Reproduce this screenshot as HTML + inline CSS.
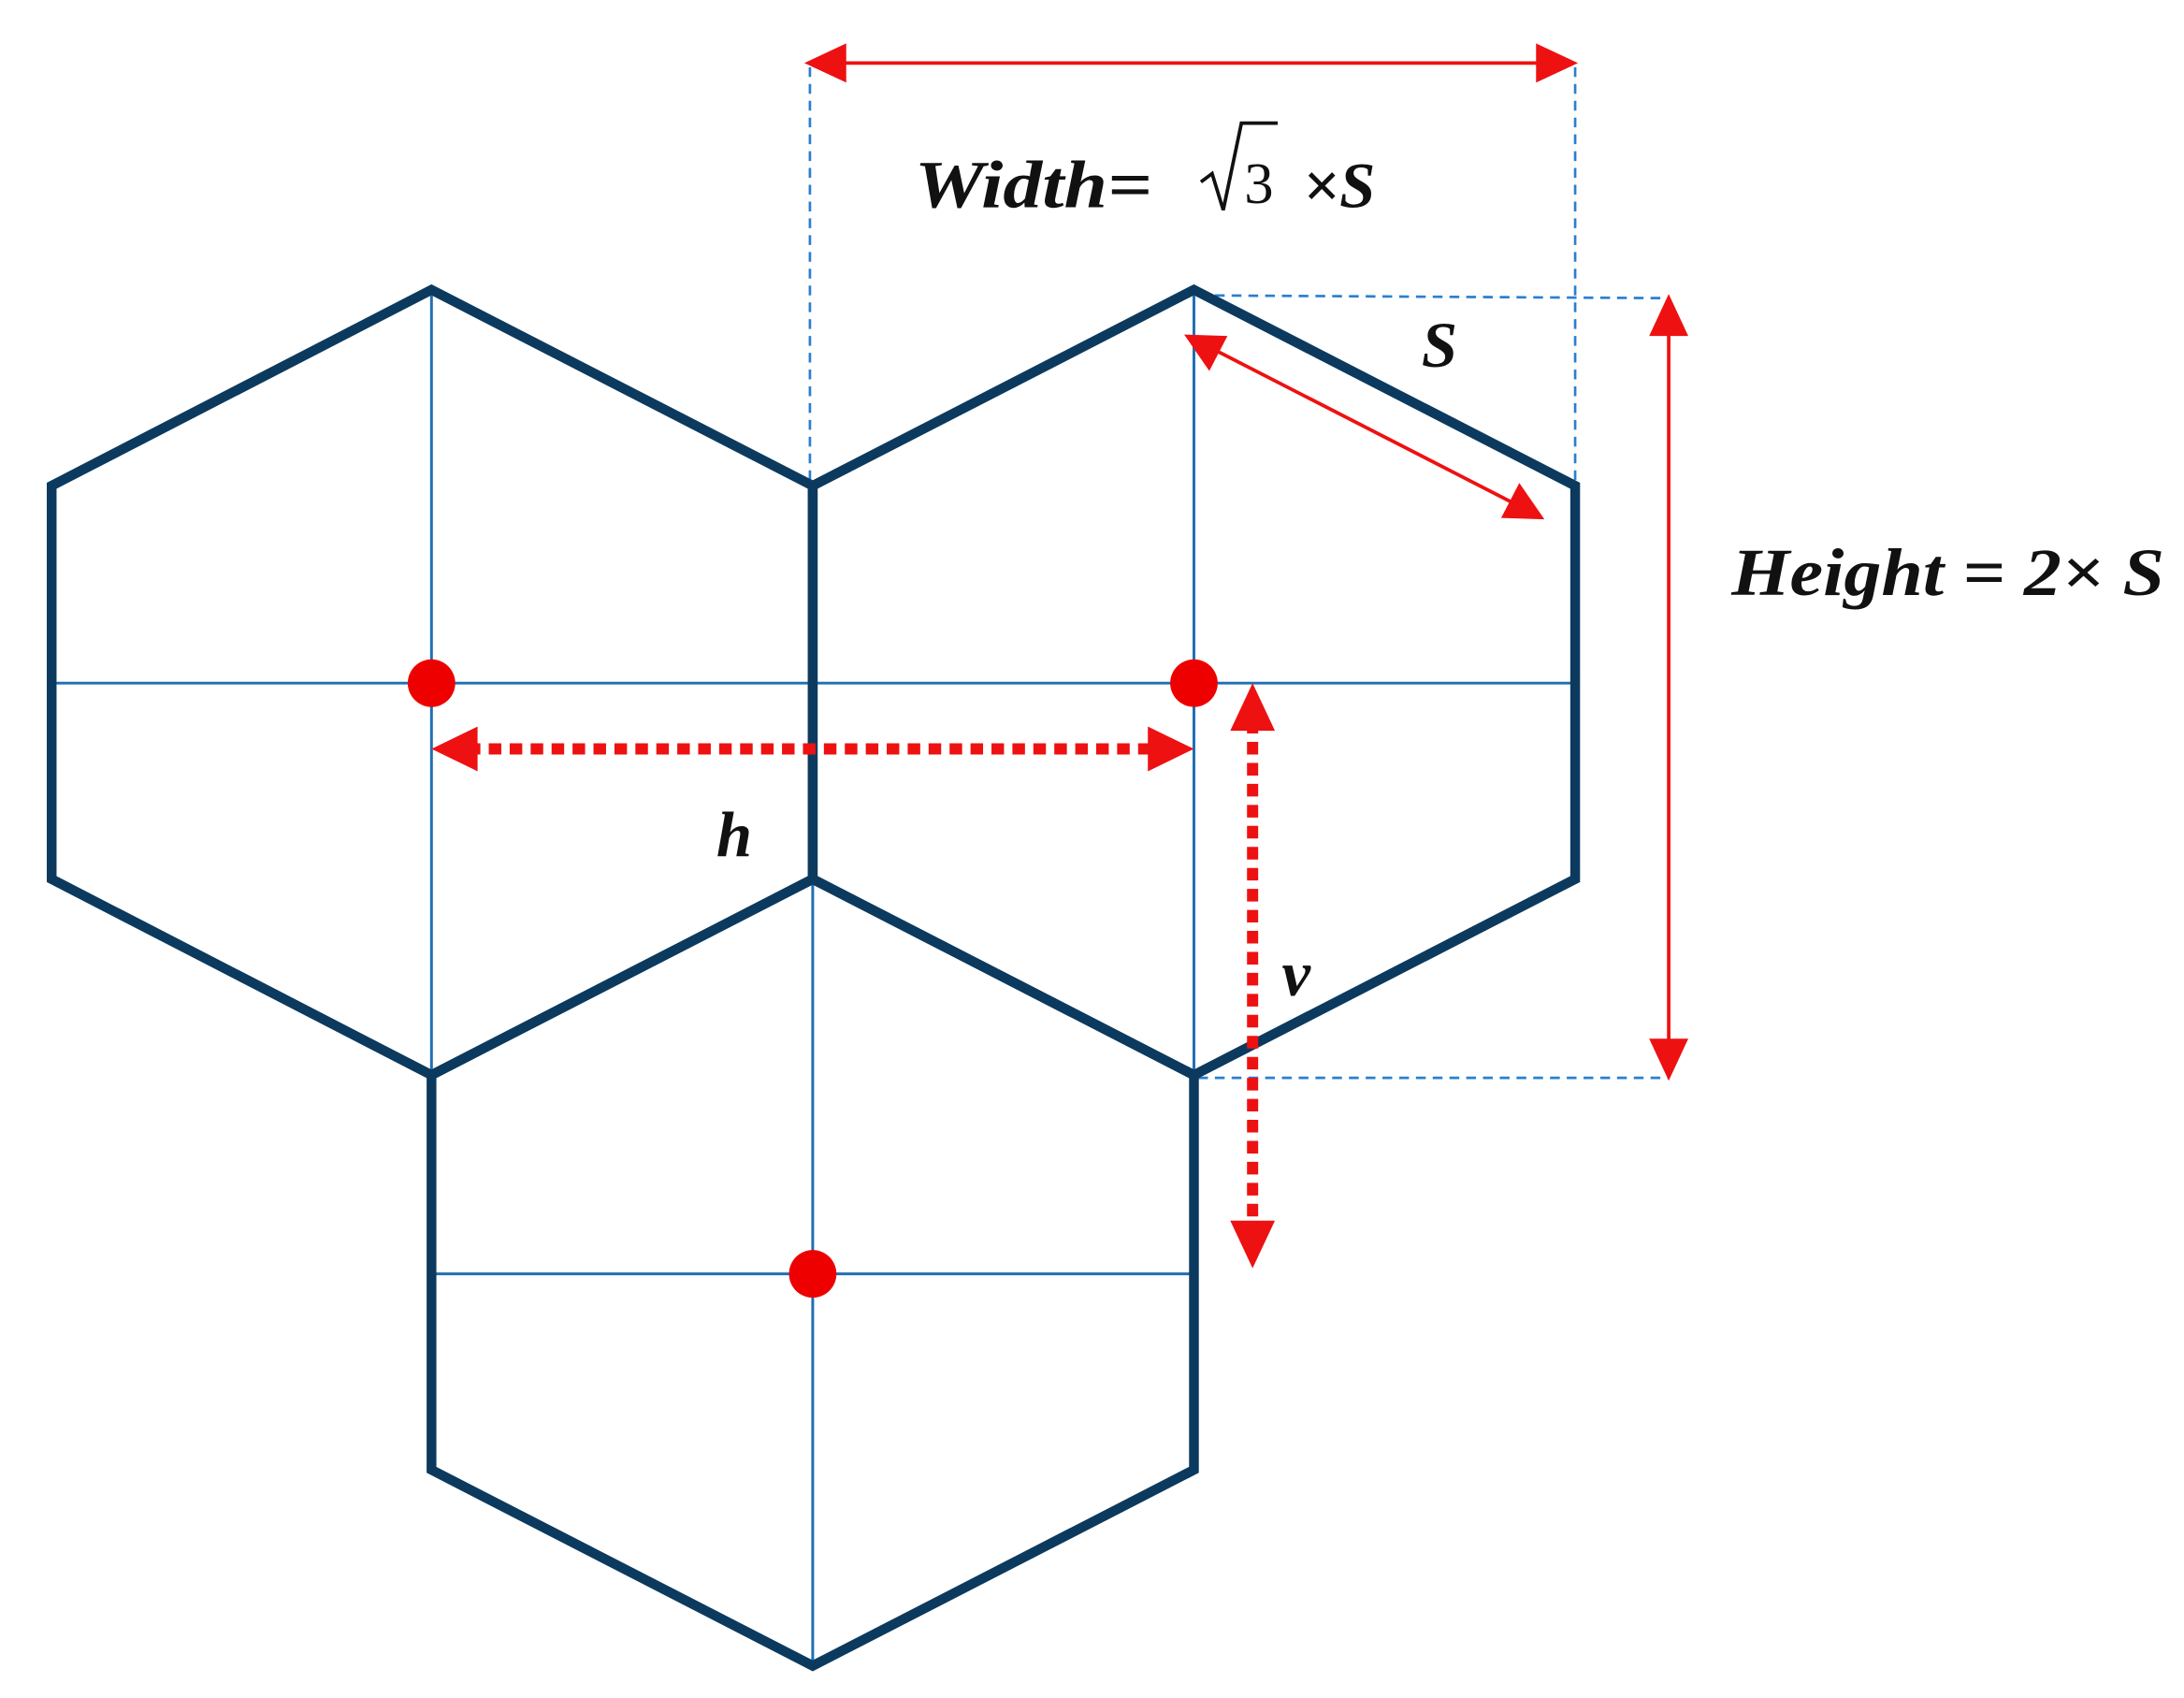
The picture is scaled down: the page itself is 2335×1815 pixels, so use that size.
<!DOCTYPE html>
<html><head><meta charset="utf-8"><style>
html,body{margin:0;padding:0;background:#fff;}
svg{display:block;}
text{font-family:"Liberation Serif",serif;font-style:italic;font-weight:bold;fill:#111;}
</style></head><body>
<svg width="2335" height="1815" viewBox="0 0 1564 1213" preserveAspectRatio="none" xmlns="http://www.w3.org/2000/svg">
<g stroke="#1f6fb5" stroke-width="2" fill="none">
<line x1="309" y1="207" x2="309" y2="768"/>
<line x1="37" y1="488" x2="582" y2="488"/>
<line x1="855" y1="207" x2="855" y2="768"/>
<line x1="582" y1="488" x2="1128" y2="488"/>
<line x1="582" y1="628" x2="582" y2="1190"/>
<line x1="309" y1="910" x2="855" y2="910"/>
</g>
<g stroke="#2a7fd0" stroke-width="1.8" fill="none" stroke-dasharray="7,5">
<line x1="580" y1="48" x2="580" y2="347"/>
<line x1="1128" y1="48" x2="1128" y2="347"/>
<line x1="858" y1="211" x2="1195" y2="213"/>
<line x1="858" y1="770" x2="1195" y2="770"/>
</g>
<g stroke="#0c3a5e" stroke-width="7" fill="none" stroke-linejoin="miter">
<polygon points="309,207 582,347 582,628 309,768 37,628 37,347"/>
<polygon points="855,207 1128,347 1128,628 855,768 582,628 582,347"/>
<polygon points="582,628 855,768 855,1050 582,1190 309,1050 309,768"/>
</g>
<g fill="#ee0000">
<circle cx="309" cy="488" r="17"/>
<circle cx="855" cy="488" r="17"/>
<circle cx="582" cy="910" r="17"/>
</g>
<g stroke="#ee1111" stroke-width="2.5" fill="#ee1111">
<line x1="600" y1="45" x2="1105" y2="45"/>
<polygon points="576,45 606,31 606,59" stroke="none"/>
<polygon points="1130,45 1100,31 1100,59" stroke="none"/>
<line x1="1195" y1="235" x2="1195" y2="748"/>
<polygon points="1195,210 1181,240 1209,240" stroke="none"/>
<polygon points="1195,772 1181,742 1209,742" stroke="none"/>
<line x1="868" y1="249" x2="1085" y2="360"/>
<polygon points="848,239 879,240 866,265" stroke="none"/>
<polygon points="1106,371 1075,370 1088,345" stroke="none"/>
</g>
<g stroke="#ee1111" stroke-width="8" fill="#ee1111" stroke-dasharray="9,6">
<line x1="335" y1="535" x2="828" y2="535"/>
<line x1="897" y1="515" x2="897" y2="880"/>
</g>
<g fill="#ee1111">
<polygon points="309,535 342,519 342,551"/>
<polygon points="855,535 822,519 822,551"/>
<polygon points="897,488 881,522 913,522"/>
<polygon points="897,906 881,872 913,872"/>
</g>
<text x="655" y="148" font-size="48" textLength="170" lengthAdjust="spacingAndGlyphs">Width=</text>
<path d="M860,130 L868,124 L876,150 L889,88 L915,88" stroke="#111" stroke-width="2.5" fill="none"/>
<text x="891" y="145" font-size="42" style="font-style:normal;font-weight:normal">3</text>
<text x="933" y="148" font-size="46">×S</text>
<text x="1018" y="262" font-size="46">S</text>
<text x="1240" y="425" font-size="48" textLength="310" lengthAdjust="spacingAndGlyphs">Height = 2× S</text>
<text x="513" y="612" font-size="46">h</text>
<text x="918" y="711" font-size="46">v</text>
</svg>
</body></html>
